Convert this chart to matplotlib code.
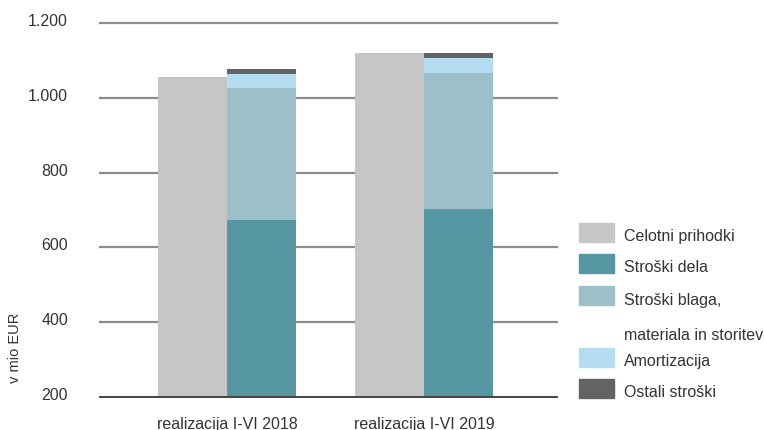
import matplotlib
matplotlib.use("Agg")
import matplotlib.pyplot as plt
import matplotlib.transforms as mtransforms
from matplotlib.patches import Rectangle
import numpy as np

categories = ["realizacija I-VI 2018", "realizacija I-VI 2019"]
celotni_prihodki = [1056, 1120]
stroski_dela = [674, 703]
stroski_blaga = [353, 364]
amortizacija = [37, 40]
ostali_stroski = [14, 13]
yticks = [200, 400, 600, 800, 1000, 1200]
ytick_labels = ["200", "400", "600", "800", "1.000", "1.200"]

legend_labels = ["Celotni prihodki", "Stroški dela", "Stroški blaga,", "materiala in storitev",
                 "Amortizacija", "Ostali stroški"]

c_prih = "#C6C6C6"
c_dela = "#5796A3"
c_blaga = "#9DBFC9"
c_amort = "#B5DDF1"
c_ost = "#636363"
txt = "#333333"

plt.rcParams['font.family'] = ['Liberation Sans', 'DejaVu Sans']

W, H = 764, 431
fig = plt.figure(figsize=(W / 100, H / 100), dpi=100)
ax = fig.add_axes([100 / W, (H - 398) / H, (557 - 100) / W, (398 - 24) / H])

x = np.arange(len(categories))
w = 0.348
ax.bar(x - w / 2, celotni_prihodki, width=w, color=c_prih, zorder=2)
b0 = np.zeros(len(x))
for vals, col in [(stroski_dela, c_dela), (stroski_blaga, c_blaga),
                  (amortizacija, c_amort), (ostali_stroski, c_ost)]:
    ax.bar(x + w / 2, vals, width=w, bottom=b0, color=col, zorder=2)
    b0 = b0 + np.array(vals)

ax.set_ylim(200, 1200)
ax.set_xlim(-127 / 197, 330 / 197)
for yv in yticks[1:]:
    ax.axhline(yv, color="#8c8c8c", lw=1.6, zorder=1, clip_on=False)
ax.axhline(200, color="#444444", lw=1.4, zorder=3, clip_on=False)

for s in ax.spines.values():
    s.set_visible(False)
ax.set_yticks(yticks)
ax.set_yticklabels(ytick_labels)
ax.tick_params(axis='y', length=0, pad=23, labelsize=11.5, labelcolor=txt)
ax.tick_params(axis='x', length=0, pad=14, labelsize=11.5, labelcolor=txt)
ax.set_xticks(x)
ax.set_xticklabels(categories)
off = mtransforms.ScaledTranslation(0, 4 / 100, fig.dpi_scale_trans)
for lab in ax.get_yticklabels():
    lab.set_transform(lab.get_transform() + off)

fig.text(15 / W, 1 - 348 / H, "v mio EUR", rotation=90, ha='center', va='center',
         fontsize=10.5, color=txt)

# legend
entries = [(c_prih, legend_labels[0], 233), (c_dela, legend_labels[1], 264),
           (c_blaga, legend_labels[2], 296), (None, legend_labels[3], 332),
           (c_amort, legend_labels[4], 358), (c_ost, legend_labels[5], 389)]
for col, lab, yc in entries:
    if col is not None:
        fig.patches.append(Rectangle((579 / W, 1 - (yc + 9.5) / H), 35 / W, 19 / H,
                                     transform=fig.transFigure, color=col))
    fig.text(624 / W, 1 - (yc + 4) / H, lab, ha='left', va='center', fontsize=11.5, color=txt)

fig.savefig("out.png", dpi=100)
